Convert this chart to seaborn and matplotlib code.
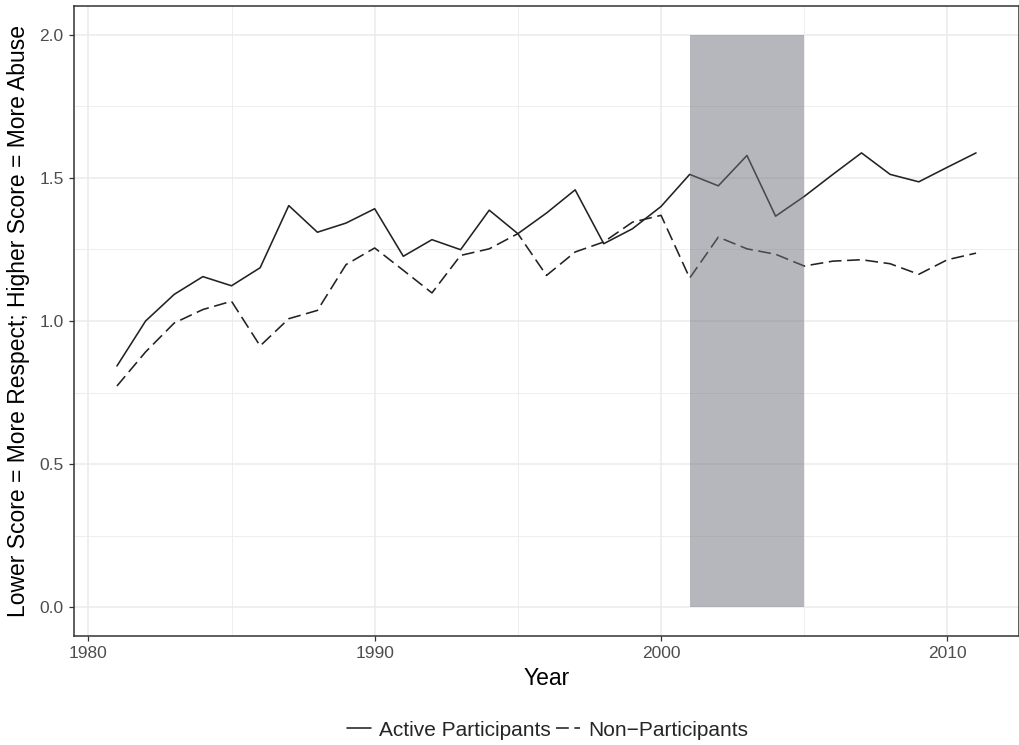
import numpy as np
import pandas as pd
import matplotlib
matplotlib.use("Agg")
import matplotlib.pyplot as plt
import seaborn as sns
from matplotlib.ticker import MultipleLocator

years = list(range(1981, 2012))
active = [0.843, 1.000, 1.093, 1.155, 1.123, 1.186, 1.403, 1.310, 1.342, 1.392,
          1.226, 1.284, 1.249, 1.387, 1.305, 1.377, 1.458, 1.270, 1.322, 1.400,
          1.512, 1.472, 1.578, 1.366, 1.435, 1.512, 1.587, 1.512, 1.486, 1.537,
          1.587]
non_part = [0.773, 0.892, 0.993, 1.040, 1.069, 0.913, 1.008, 1.037, 1.197, 1.255,
            1.177, 1.098, 1.229, 1.252, 1.305, 1.159, 1.241, 1.276, 1.345, 1.369,
            1.150, 1.293, 1.252, 1.233, 1.192, 1.209, 1.214, 1.200, 1.163, 1.214,
            1.237]
group_labels = ["Active Participants", "Non\u2212Participants"]
band_years = [2001, 2005]
band_values = [0.0, 2.0]
x_ticks = [1980, 1990, 2000, 2010]
y_ticks = [0.0, 0.5, 1.0, 1.5, 2.0]

df = pd.DataFrame({
    "Year": years * 2,
    "Score": active + non_part,
    "Group": [group_labels[0]] * len(years) + [group_labels[1]] * len(years),
})

sns.set_theme(style="white")
plt.rcParams["font.family"] = ["Liberation Sans", "DejaVu Sans"]

fig = plt.figure(figsize=(10.2, 7.45), dpi=100)
ax = fig.add_axes([74 / 1020, 1 - 636 / 745, (1019 - 74) / 1020, (636 - 6) / 745])

sns.lineplot(data=df, x="Year", y="Score", style="Group", style_order=group_labels,
             dashes={group_labels[0]: "", group_labels[1]: (8, 3.5)},
             color="#222222", linewidth=1.15, ax=ax, legend=True, zorder=3)

ax.fill_between(band_years, band_values[0], band_values[1], color="#6f717a",
                alpha=0.5, linewidth=0, zorder=4)

ax.set_xlim(1979.5, 2012.5)
ax.set_ylim(-0.1, 2.1)
ax.set_xticks(x_ticks)
ax.set_yticks(y_ticks)
ax.set_yticklabels([f"{v:.1f}" for v in y_ticks])
ax.xaxis.set_minor_locator(MultipleLocator(5))
ax.yaxis.set_minor_locator(MultipleLocator(0.25))
ax.grid(True, which="major", color="#ebebeb", linewidth=1.1, zorder=0)
ax.grid(True, which="minor", color="#ebebeb", linewidth=0.6, zorder=0)
ax.set_axisbelow(True)
for s in ax.spines.values():
    s.set_color("#333333")
    s.set_linewidth(1.1)
ax.tick_params(axis="both", which="major", direction="out", length=3.8, width=0.9,
               color="#333333", labelsize=12.5, labelcolor="#4d4d4d", pad=3.6,
               bottom=True, left=True)
ax.tick_params(axis="both", which="minor", length=0)

ax.set_xlabel("Year", fontsize=16.5, color="black", labelpad=4)
ax.set_ylabel("Lower Score = More Respect; Higher Score = More Abuse", fontsize=16.5,
              color="black", labelpad=7)

handles, labels = ax.get_legend_handles_labels()
ax.get_legend().remove()
for h in handles:
    h.set_color("#222222")
fig.legend(handles, labels, loc="center left", bbox_to_anchor=(347 / 1020, 1 - 730 / 745),
           ncol=2, frameon=False, fontsize=15, handlelength=1.15, handletextpad=0.4,
           columnspacing=0.25, borderpad=0, borderaxespad=0)

fig.savefig("out.png", dpi=100)
